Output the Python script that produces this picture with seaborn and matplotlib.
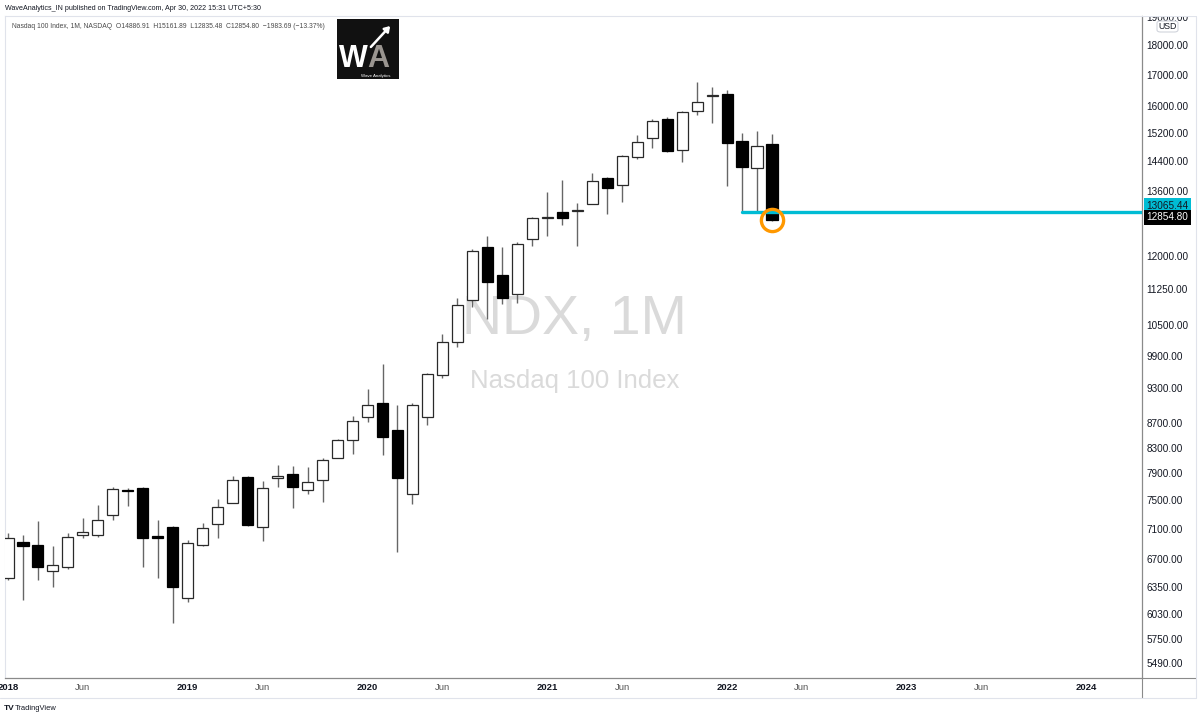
import numpy as np
import pandas as pd
import matplotlib
matplotlib.use("Agg")
import matplotlib.pyplot as plt
import seaborn as sns
from matplotlib.patches import Rectangle, FancyBboxPatch, FancyArrowPatch
from matplotlib.lines import Line2D
from matplotlib.ticker import FixedLocator, NullLocator

# ---------------- data (NDX monthly, Jan 2018 - Apr 2022) ----------------
month_labels = pd.date_range("2018-01-01", "2022-04-01", freq="MS").strftime("%b %Y").tolist()

opens = [6455, 6925, 6882, 6545, 6600, 7023, 7020, 7286, 7650, 7684, 7000, 7119,
         6217, 6882, 7165, 7464, 7839, 7119, 7823, 7885, 7650, 7797, 8139, 8422,
         8808, 9047, 8585, 7597, 8808, 9542, 10163, 11023, 12213, 11567, 11151, 12388,
         12900, 13062, 13090, 13259, 13931, 13752, 14520, 15044, 15622, 14710, 15863, 16330,
         16382, 14965, 14200, 14886.91]
highs = [7040, 7020, 7207, 6868, 7038, 7255, 7430, 7700, 7680, 7700, 7221, 7135,
         6946, 7180, 7515, 7865, 7865, 7782, 8020, 8016, 7991, 8130, 8440, 8820,
         9284, 9745, 9007, 9040, 9590, 10324, 11072, 12160, 12476, 12200, 12315, 12940,
         13560, 13884, 13291, 14064, 13960, 14560, 15139, 15600, 15680, 15860, 16755, 16594,
         16508, 15207, 15270, 15161.89]
lows = [6440, 6193, 6434, 6350, 6567, 6980, 6985, 7225, 7418, 6600, 6460, 5920,
        6165, 6870, 6970, 7455, 7140, 6930, 7700, 7390, 7597, 7480, 8130, 8200,
        8723, 8180, 6793, 7450, 8665, 9485, 10080, 10878, 10630, 10950, 10970, 12220,
        12470, 12740, 12220, 13250, 13000, 13320, 14460, 14780, 14650, 14382, 15720, 15501,
        13725, 13065.44, 13046, 12835.48]
closes = [6972, 6868, 6600, 6622, 6985, 7058, 7225, 7665, 7640, 6979, 6975, 6350,
          6912, 7112, 7398, 7797, 7152, 7684, 7863, 7700, 7764, 8104, 8422, 8741,
          9007, 8475, 7823, 9007, 9560, 10163, 10918, 12112, 11419, 11059, 12269, 12899,
          12925, 12899, 13100, 13858, 13680, 14541, 14946, 15561, 14680, 15833, 16141, 16341,
          14917, 14228, 14823, 12854.80]

price_ticks = [19000, 18000, 17000, 16000, 15200, 14400, 13600, 12000, 11250, 10500,
               9900, 9300, 8700, 8300, 7900, 7500, 7100, 6700, 6350, 6030, 5750, 5490]
time_tick_pos = [0, 5, 12, 17, 24, 29, 36, 41, 48, 53, 60, 65, 72]
time_tick_labels = ["2018", "Jun", "2019", "Jun", "2020", "Jun", "2021", "Jun",
                    "2022", "Jun", "2023", "Jun", "2024"]

support_level = 13065.44
support_start = 49          # Feb 2022 candle
last_close = 12854.80
last_index = 51

header = "WaveAnalytics_IN published on TradingView.com, Apr 30, 2022 15:31 UTC+5:30"
legend_line = ("Nasdaq 100 Index, 1M, NASDAQ  O14886.91  H15161.89  L12835.48  "
               "C12854.80  \u22121983.69 (\u221213.37%)")

# ---------------- style ----------------
sns.set_theme(style="white")
plt.rcParams["font.family"] = ["Liberation Sans", "DejaVu Sans"]

W, H = 1200, 720
def fx(px):
    return px / W
def fy(py):
    return 1 - py / H

fig = plt.figure(figsize=(12, 7.2), dpi=100)
fig.patch.set_facecolor("white")
ax = fig.add_axes([fx(5), fy(678), fx(1142) - fx(5), fy(16) - fy(678)])
ax.set_facecolor("white")

df = pd.DataFrame({"idx": np.arange(len(opens)), "open": opens, "high": highs,
                   "low": lows, "close": closes})
df["up"] = df["close"] >= df["open"]
df["bottom"] = df[["open", "close"]].min(axis=1)
df["height"] = (df["close"] - df["open"]).abs()

ax.set_yscale("log")

# wicks
ax.vlines(df["idx"], df["low"], df["high"], color="#666666", linewidth=1.0, zorder=2)
# bodies
up = df[df["up"]]
dn = df[~df["up"]]
ax.bar(up["idx"], up["height"], bottom=up["bottom"], width=0.74, color="white",
       edgecolor="#2a2a2a", linewidth=0.9, zorder=3)
ax.bar(dn["idx"], dn["height"], bottom=dn["bottom"], width=0.74, color="black",
       edgecolor="black", linewidth=0.9, zorder=3)

# support level line
sns.lineplot(x=[support_start, 76.5], y=[support_level, support_level], color="#00BCD4",
             linewidth=2.4, ax=ax, zorder=4)
# orange circle at last close
ax.plot([last_index], [last_close], marker="o", markersize=16, markerfacecolor="none",
        markeredgecolor="#FF9800", markeredgewidth=2.4, zorder=5)

ax.set_xlim(-0.2, 75.7)
ax.set_ylim(5330, 19033)

# watermark
ax.text(0.501, 0.541, "NDX, 1M", transform=ax.transAxes, ha="center", va="center",
        fontsize=40, color="#DADADA", zorder=0)
ax.text(0.501, 0.449, "Nasdaq 100 Index", transform=ax.transAxes, ha="center", va="center",
        fontsize=18.5, color="#DADADA", zorder=0)

# axes styling
ax.grid(False)
ax.yaxis.tick_right()
ax.yaxis.set_major_locator(FixedLocator(price_ticks))
ax.yaxis.set_minor_locator(NullLocator())
ax.set_yticklabels([f"{v:.2f}" for v in price_ticks])
ax.xaxis.set_major_locator(FixedLocator(time_tick_pos))
ax.xaxis.set_minor_locator(NullLocator())
ax.set_xticklabels(time_tick_labels)
ax.tick_params(axis="y", length=0, pad=3, labelsize=7.2, labelcolor="#131722")
ax.tick_params(axis="x", length=0, pad=3.5, labelsize=6.8, labelcolor="#131722")
for lab in ax.get_xticklabels():
    if lab.get_text() == "Jun":
        lab.set_color("#555555")
    else:
        lab.set_fontweight("bold")
for side in ["top", "left"]:
    ax.spines[side].set_color("#E0E3EB")
    ax.spines[side].set_linewidth(0.8)
for side in ["right", "bottom"]:
    ax.spines[side].set_color("#8a8a8a")
    ax.spines[side].set_linewidth(0.9)
ax.set_xlabel("")
ax.set_ylabel("")

# price labels on axis
ax.annotate(f"{support_level:.2f}", xy=(1, support_level), xycoords=("axes fraction", "data"),
            xytext=(3, 4.3), textcoords="offset points", ha="left", va="center",
            fontsize=7.2, color="#131722", annotation_clip=False, zorder=6,
            bbox=dict(boxstyle="square,pad=0.25", fc="#00BCD4", ec="none"))
ax.annotate(f"{last_close:.2f}", xy=(1, last_close), xycoords=("axes fraction", "data"),
            xytext=(3, 2.2), textcoords="offset points", ha="left", va="center",
            fontsize=7.2, color="white", annotation_clip=False, zorder=6,
            bbox=dict(boxstyle="square,pad=0.25", fc="black", ec="none"))

# cover top part of clipped 19000 label
fig.patches.append(Rectangle((fx(1143), fy(16)), fx(1200) - fx(1143), 1 - fy(16),
                             transform=fig.transFigure, fc="white", ec="none", zorder=10))
# USD box
fig.patches.append(FancyBboxPatch((fx(1157), fy(32)), fx(1178) - fx(1157), fy(21) - fy(32),
                                  boxstyle="round,pad=0.0,rounding_size=0.003",
                                  transform=fig.transFigure, fc="white", ec="#D1D4DC",
                                  lw=0.8, zorder=11))
fig.text(fx(1167.5), fy(26.5), "USD", ha="center", va="center", fontsize=6.3,
         color="#131722", zorder=12)

# frame lines outside axes
for (x0, y0, x1, y1, c) in [(1142, 678, 1196, 678, "#8a8a8a"),
                             (1142, 678, 1142, 698, "#8a8a8a"),
                             (0, 698, 1196, 698, "#E0E3EB"),
                             (1196, 16, 1196, 698, "#E0E3EB"),
                             (1142, 16, 1196, 16, "#E0E3EB")]:
    fig.add_artist(Line2D([fx(x0), fx(x1)], [fy(y0), fy(y1)], transform=fig.transFigure,
                          color=c, linewidth=0.8, zorder=9))

# header and legend texts
fig.text(fx(5), fy(8), header, ha="left", va="center", fontsize=5.1, color="#131722")
fig.text(fx(12), fy(27), legend_line, ha="left", va="center", fontsize=4.9, color="#4a4a4a")

# logo
fig.patches.append(Rectangle((fx(337), fy(79)), fx(399) - fx(337), fy(19) - fy(79),
                             transform=fig.transFigure, fc="#111111", ec="none", zorder=10))
fig.text(fx(339), fy(67), "W", ha="left", va="baseline", fontsize=22, fontweight="bold",
         color="white", zorder=11)
fig.text(fx(367), fy(67), "A", ha="left", va="baseline", fontsize=22, fontweight="bold",
         color="#9a9590", zorder=11)
fig.add_artist(FancyArrowPatch((fx(369), fy(49)), (fx(392), fy(24)),
               transform=fig.transFigure, arrowstyle="-|>,head_length=3,head_width=2",
               color="white", lw=1.8, zorder=12))
fig.text(fx(376), fy(75.5), "Wave Analytics", ha="center", va="center", fontsize=3.2,
         color="white", zorder=12)

# TradingView footer
fig.text(fx(4), fy(708), "TV", ha="left", va="center", fontsize=6, fontweight="bold",
         color="#131722")
fig.text(fx(15), fy(708), "TradingView", ha="left", va="center", fontsize=5.4,
         color="#131722")

fig.savefig("out.png", dpi=100, facecolor="white")
